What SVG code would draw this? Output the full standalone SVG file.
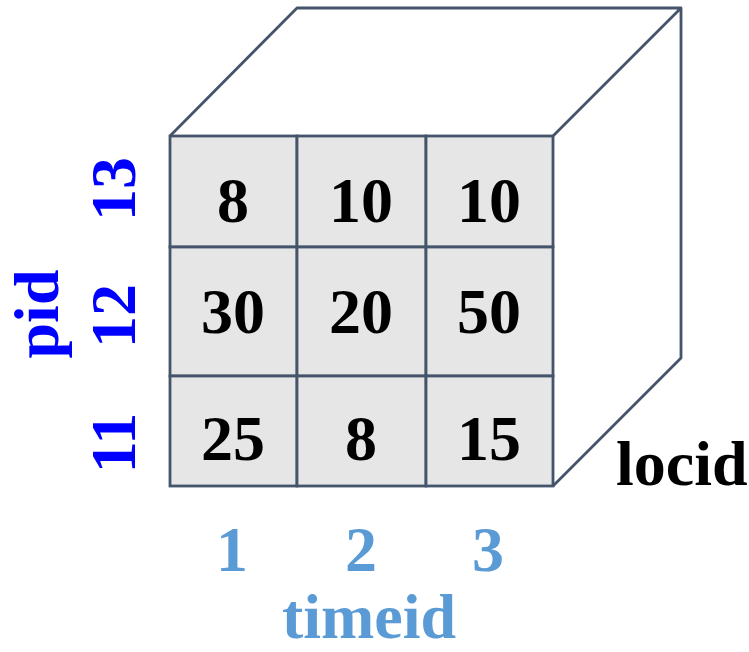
<svg xmlns="http://www.w3.org/2000/svg" width="749" height="652" viewBox="0 0 749 652">
<style>
.edge{fill:none;stroke:#44546A;stroke-width:2.8;stroke-linejoin:round}
.cell{fill:#E6E6E6;stroke:#44546A;stroke-width:2.8}
.val{font-family:"Liberation Serif","Times New Roman",serif;font-weight:bold;font-size:64px;fill:#000;text-anchor:middle}
.pid{font-family:"Liberation Serif","Times New Roman",serif;font-weight:bold;font-size:64px;fill:#0000FF;text-anchor:middle}
.time{font-family:"Liberation Serif","Times New Roman",serif;font-weight:bold;font-size:64px;fill:#5B9BD5;text-anchor:middle}
.loc{font-family:"Liberation Serif","Times New Roman",serif;font-weight:bold;font-size:64px;fill:#000}
</style>
<rect width="749" height="652" fill="#fff"/>
<g id="cube">
<path class="edge" d="M170,136 L297,8 L681,8 L681,358 L553,486 M553,136 L681,8"/>
</g>
<g id="cells">
<rect class="cell" x="170" y="136" width="127" height="111"/>
<rect class="cell" x="297" y="136" width="129" height="111"/>
<rect class="cell" x="426" y="136" width="127" height="111"/>
<rect class="cell" x="170" y="247" width="127" height="129"/>
<rect class="cell" x="297" y="247" width="129" height="129"/>
<rect class="cell" x="426" y="247" width="127" height="129"/>
<rect class="cell" x="170" y="376" width="127" height="110"/>
<rect class="cell" x="297" y="376" width="129" height="110"/>
<rect class="cell" x="426" y="376" width="127" height="110"/>
</g>
<g id="values">
<text class="val" x="233" y="222">8</text>
<text class="val" x="361" y="222">10</text>
<text class="val" x="489" y="222">10</text>
<text class="val" x="233" y="333">30</text>
<text class="val" x="361" y="333">20</text>
<text class="val" x="489" y="333">50</text>
<text class="val" x="233" y="460">25</text>
<text class="val" x="361" y="460">8</text>
<text class="val" x="489" y="460">15</text>
</g>
<g id="pid-axis">
<text class="pid" transform="translate(135,189) rotate(-90)">13</text>
<text class="pid" transform="translate(135,316) rotate(-90)">12</text>
<text class="pid" transform="translate(135,443) rotate(-90)">11</text>
<text class="pid" transform="translate(58,314) rotate(-90)">pid</text>
</g>
<g id="time-axis">
<text class="time" x="232" y="571">1</text>
<text class="time" x="361" y="571">2</text>
<text class="time" x="488" y="571">3</text>
<text class="time" x="369" y="638">timeid</text>
</g>
<g id="locid-label">
<text class="loc" x="616" y="485">locid</text>
</g>
</svg>
